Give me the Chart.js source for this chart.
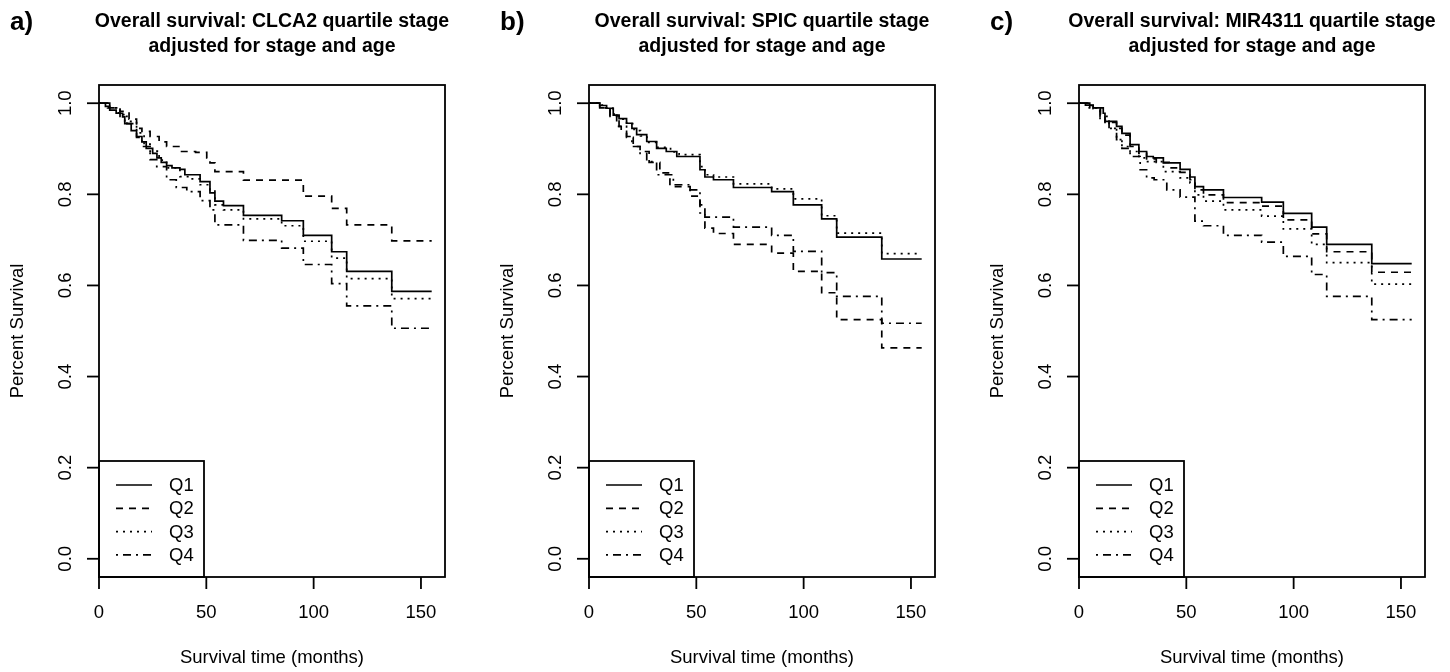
<!DOCTYPE html>
<html>
<head>
<meta charset="utf-8">
<script src="https://cdn.jsdelivr.net/npm/chart.js@4.4.1/dist/chart.umd.min.js"></script>
<style>
html, body { margin: 0; padding: 0; background: #fff; overflow: hidden; }
#wrap { position: relative; width: 1450px; height: 672px; }
.panel { position: absolute; top: 0; }
</style>
</head>
<body>
<div id="wrap">
  <canvas id="chartA" class="panel" style="left:0px" width="490" height="672"></canvas>
  <canvas id="chartB" class="panel" style="left:490px" width="490" height="672"></canvas>
  <canvas id="chartC" class="panel" style="left:980px" width="470" height="672"></canvas>
</div>
<script>
// tick labels and legend
var xTicks = [0, 50, 100, 150];
var yTicks = [0, 0.2, 0.4, 0.6, 0.8, 1.0];
var groups = ["Q1", "Q2", "Q3", "Q4"];
var panelTags = ["a)", "b)", "c)"];
var genes = ["CLCA2", "SPIC", "MIR4311"];

// a) CLCA2 - event times (months) and survival after each step
var clca2Q1Time = [0, 3, 5, 8, 11, 12, 15, 17.5, 20, 22, 25, 27, 29, 31.5, 34, 37.7, 40, 47.1, 51.7, 54, 58, 67.3, 85.1, 95.2, 108.4, 115.4, 136.4, 155];
var clca2Q1Surv = [1, 0.993, 0.985, 0.978, 0.97, 0.955, 0.94, 0.927, 0.915, 0.901, 0.89, 0.88, 0.87, 0.863, 0.858, 0.855, 0.843, 0.828, 0.803, 0.785, 0.775, 0.754, 0.742, 0.71, 0.674, 0.631, 0.587, 0.587];
var clca2Q2Time = [0, 4, 9.8, 14, 17.5, 20, 23.8, 28, 31.5, 37.7, 45, 50.2, 51.7, 54, 67.3, 95.2, 108.4, 115.4, 136.4, 155];
var clca2Q2Surv = [1, 0.99, 0.982, 0.965, 0.945, 0.938, 0.927, 0.915, 0.905, 0.894, 0.892, 0.88, 0.869, 0.85, 0.831, 0.796, 0.769, 0.733, 0.698, 0.698];
var clca2Q3Time = [0, 4, 9, 12, 17.5, 21, 23.8, 28, 31.5, 37.7, 42, 47.1, 51.7, 54, 58, 67.3, 85.1, 95.2, 108.4, 115.4, 136.4, 155];
var clca2Q3Surv = [1, 0.99, 0.975, 0.96, 0.935, 0.91, 0.895, 0.875, 0.858, 0.839, 0.834, 0.821, 0.81, 0.777, 0.766, 0.746, 0.731, 0.697, 0.66, 0.615, 0.571, 0.571];
var clca2Q4Time = [0, 5, 9.8, 13, 17.5, 20, 23.8, 26.9, 31.5, 36, 40.9, 47.1, 51.7, 54, 67.3, 85.1, 95.2, 108.4, 115.4, 136.4, 155];
var clca2Q4Surv = [1, 0.99, 0.971, 0.955, 0.925, 0.905, 0.876, 0.861, 0.832, 0.815, 0.806, 0.786, 0.766, 0.733, 0.699, 0.682, 0.646, 0.604, 0.555, 0.506, 0.506];

// b) SPIC
var spicQ1Time = [0, 5, 8.2, 11.3, 14, 17.5, 20, 22.2, 26.9, 31.5, 36, 40.9, 51.7, 54, 58, 67.3, 85.1, 95.2, 108.4, 115.4, 136.4, 155];
var spicQ1Surv = [1, 0.995, 0.989, 0.974, 0.966, 0.956, 0.945, 0.931, 0.916, 0.901, 0.894, 0.883, 0.854, 0.838, 0.832, 0.815, 0.806, 0.777, 0.746, 0.706, 0.658, 0.658];
var spicQ2Time = [0, 5, 9.8, 12.9, 15, 17.5, 20.6, 23.8, 28, 33, 37.7, 47.1, 51.7, 54, 58, 67.3, 85.1, 95.2, 108.4, 115.4, 136.4, 155];
var spicQ2Surv = [1, 0.99, 0.974, 0.949, 0.938, 0.925, 0.905, 0.894, 0.87, 0.847, 0.817, 0.796, 0.777, 0.726, 0.714, 0.69, 0.671, 0.631, 0.584, 0.525, 0.463, 0.463];
var spicQ3Time = [0, 4, 8, 11, 14, 17.5, 21, 24, 27, 31.5, 38, 42, 51.7, 54, 58, 67.3, 85.1, 95.2, 108.4, 115.4, 136.4, 155];
var spicQ3Surv = [1, 0.996, 0.99, 0.976, 0.965, 0.955, 0.94, 0.928, 0.914, 0.903, 0.893, 0.887, 0.861, 0.843, 0.838, 0.823, 0.812, 0.79, 0.753, 0.715, 0.67, 0.67];
var spicQ4Time = [0, 5, 9.8, 14, 17.5, 20, 23.8, 26.9, 31.5, 39.3, 47.1, 51.7, 54, 67.3, 85.1, 95.2, 108.4, 115.4, 136.4, 155];
var spicQ4Surv = [1, 0.99, 0.971, 0.949, 0.927, 0.905, 0.89, 0.872, 0.843, 0.821, 0.81, 0.759, 0.75, 0.728, 0.71, 0.675, 0.628, 0.576, 0.517, 0.517];

// c) MIR4311
var mirQ1Time = [0, 3, 6.6, 11.3, 12.1, 17.5, 20, 23.8, 27.9, 31.5, 34.6, 39.3, 47.1, 51.7, 54, 58, 67.3, 85.1, 95.2, 108.4, 115.4, 136.4, 155];
var mirQ1Surv = [1, 0.996, 0.99, 0.978, 0.96, 0.949, 0.934, 0.909, 0.894, 0.883, 0.88, 0.869, 0.855, 0.838, 0.817, 0.81, 0.793, 0.783, 0.758, 0.728, 0.69, 0.648, 0.648];
var mirQ2Time = [0, 3, 6.6, 10, 12.1, 17.5, 20, 23.8, 27.9, 31.5, 36, 42, 47.1, 51.7, 54, 58, 67.3, 85.1, 95.2, 108.4, 115.4, 136.4, 155];
var mirQ2Surv = [1, 0.995, 0.988, 0.975, 0.958, 0.945, 0.93, 0.905, 0.89, 0.878, 0.87, 0.858, 0.848, 0.832, 0.81, 0.799, 0.782, 0.774, 0.744, 0.713, 0.674, 0.629, 0.629];
var mirQ3Time = [0, 4, 9.8, 14, 17.5, 20, 23.8, 27.9, 31.5, 39.3, 47.1, 51.7, 54, 58, 67.3, 85.1, 95.2, 108.4, 115.4, 136.4, 155];
var mirQ3Surv = [1, 0.99, 0.963, 0.945, 0.92, 0.905, 0.894, 0.88, 0.872, 0.85, 0.836, 0.825, 0.799, 0.785, 0.766, 0.752, 0.724, 0.69, 0.65, 0.603, 0.603];
var mirQ4Time = [0, 5, 9.8, 14, 17.5, 20, 23.8, 28.5, 31.5, 35, 40.9, 47.1, 54, 58, 67.3, 85.1, 95.2, 108.4, 115.4, 136.4, 155];
var mirQ4Surv = [1, 0.99, 0.971, 0.945, 0.92, 0.901, 0.883, 0.854, 0.836, 0.832, 0.81, 0.794, 0.741, 0.731, 0.71, 0.695, 0.664, 0.624, 0.576, 0.525, 0.525];

var FONT = '"Liberation Sans", Arial, Helvetica, sans-serif';
var dashes = [[], [7, 6], [2, 5], [2, 5, 8, 5]];

function toPoints(times, surv) {
    var pts = [];
    for (var i = 0; i < times.length; i++) pts.push({x: times[i], y: surv[i]});
    return pts;
}

// R-style box, axes, titles and legend
var rStyle = {
    id: 'rStyle',
    afterDraw: function(chart, args, opts) {
        var ctx = chart.ctx, a = chart.chartArea;
        var xs = chart.scales.x, ys = chart.scales.y;
        ctx.save();
        ctx.strokeStyle = '#000';
        ctx.fillStyle = '#000';
        ctx.lineWidth = 1.8;
        ctx.setLineDash([]);
        ctx.strokeRect(a.left, a.top, a.right - a.left, a.bottom - a.top);

        // x axis
        ctx.font = '18.5px ' + FONT;
        ctx.textAlign = 'center';
        ctx.textBaseline = 'middle';
        xTicks.forEach(function(v) {
            var px = xs.getPixelForValue(v);
            ctx.beginPath();
            ctx.moveTo(px, a.bottom);
            ctx.lineTo(px, a.bottom + 12);
            ctx.stroke();
            ctx.fillText(String(v), px, a.bottom + 36);
        });
        ctx.fillText('Survival time (months)', (a.left + a.right) / 2, a.bottom + 81);

        // y axis
        yTicks.forEach(function(v) {
            var py = ys.getPixelForValue(v);
            ctx.beginPath();
            ctx.moveTo(a.left - 12, py);
            ctx.lineTo(a.left, py);
            ctx.stroke();
            ctx.save();
            ctx.translate(a.left - 33, py);
            ctx.rotate(-Math.PI / 2);
            ctx.fillText(v.toFixed(1), 0, 0);
            ctx.restore();
        });
        ctx.save();
        ctx.translate(a.left - 81, (a.top + a.bottom) / 2);
        ctx.rotate(-Math.PI / 2);
        ctx.fillText('Percent Survival', 0, 0);
        ctx.restore();

        // titles
        ctx.textBaseline = 'alphabetic';
        ctx.font = 'bold 19.5px ' + FONT;
        var cx = (a.left + a.right) / 2;
        ctx.fillText('Overall survival: ' + opts.gene + ' quartile stage', cx, 27);
        ctx.fillText('adjusted for stage and age', cx, 52);
        ctx.textAlign = 'left';
        ctx.font = 'bold 26px ' + FONT;
        ctx.fillText(opts.tag, a.left - 89, 30);

        // legend
        var lx = a.left, ly = 461, lw = 105;
        ctx.lineWidth = 1.8;
        ctx.strokeRect(lx, ly, lw, a.bottom - ly);
        ctx.font = '18.5px ' + FONT;
        ctx.textBaseline = 'middle';
        groups.forEach(function(g, i) {
            var yy = ly + 24 + i * 23.3;
            ctx.setLineDash(dashes[i]);
            ctx.lineWidth = 1.7;
            ctx.beginPath();
            ctx.moveTo(lx + 17, yy);
            ctx.lineTo(lx + 53, yy);
            ctx.stroke();
            ctx.setLineDash([]);
            ctx.fillText(g, lx + 70, yy + 1);
        });
        ctx.restore();
    }
};

function makeChart(id, idx, series, rightPad) {
    var ds = series.map(function(s, i) {
        return {
            label: groups[i],
            data: toPoints(s[0], s[1]),
            stepped: 'before',
            borderColor: '#000',
            borderWidth: 1.7,
            borderDash: dashes[i],
            borderCapStyle: 'butt',
            pointRadius: 0,
            fill: false
        };
    });
    return new Chart(document.getElementById(id).getContext('2d'), {
        type: 'line',
        data: {datasets: ds},
        options: {
            responsive: false,
            animation: false,
            layout: {padding: {left: 99, right: rightPad, top: 85, bottom: 95}},
            plugins: {
                legend: {display: false},
                tooltip: {enabled: false},
                rStyle: {gene: genes[idx], tag: panelTags[idx]}
            },
            scales: {
                x: {type: 'linear', display: false, min: 0, max: 161.2},
                y: {type: 'linear', display: false, min: -0.04, max: 1.04}
            }
        },
        plugins: [rStyle]
    });
}

makeChart('chartA', 0, [[clca2Q1Time, clca2Q1Surv], [clca2Q2Time, clca2Q2Surv], [clca2Q3Time, clca2Q3Surv], [clca2Q4Time, clca2Q4Surv]], 45);
makeChart('chartB', 1, [[spicQ1Time, spicQ1Surv], [spicQ2Time, spicQ2Surv], [spicQ3Time, spicQ3Surv], [spicQ4Time, spicQ4Surv]], 45);
makeChart('chartC', 2, [[mirQ1Time, mirQ1Surv], [mirQ2Time, mirQ2Surv], [mirQ3Time, mirQ3Surv], [mirQ4Time, mirQ4Surv]], 25);
</script>
</body>
</html>
